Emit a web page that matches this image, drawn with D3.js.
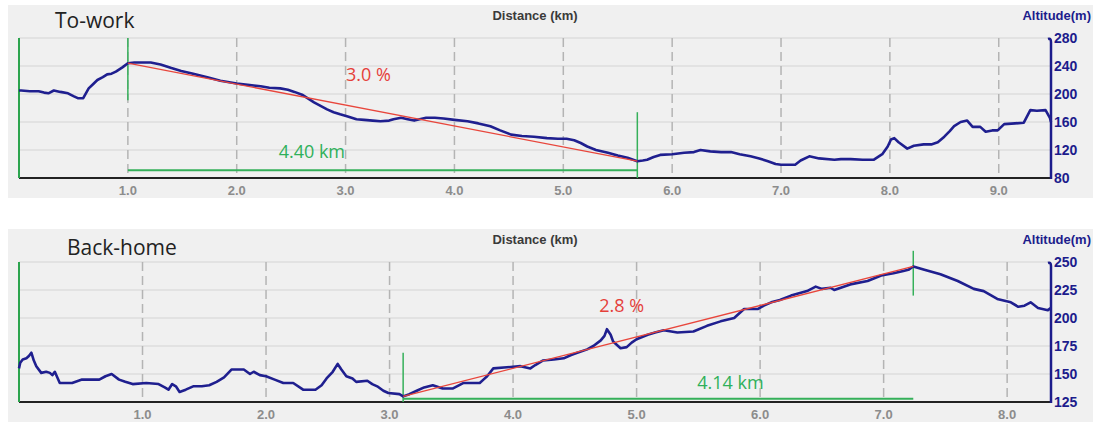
<!DOCTYPE html>
<html>
<head>
<meta charset="utf-8">
<script src="https://cdn.jsdelivr.net/npm/d3@7"></script>
<style>
  body { margin: 0; background: #fff; }
  svg { display: block; }
  .tick-x { font-family: "Liberation Sans", Arial, sans-serif; font-weight: bold; font-size: 13px; fill: #8c8c8c; }
  .tick-y { font-family: "Liberation Sans", Arial, sans-serif; font-weight: bold; font-size: 14px; fill: #1c1c8c; }
  .ax-title { font-family: "Liberation Sans", Arial, sans-serif; font-weight: bold; font-size: 13px; }
  .title { font-family: "Open Sans", "Noto Sans", sans-serif; font-size: 21px; fill: #222; }
  .note { font-family: "Open Sans", "Noto Sans", sans-serif; font-size: 18px; }
</style>
</head>
<body>
<svg id="chart" width="1096" height="424"></svg>
<script>
// To-work profile (km, m)
const topDist = [0.00, 0.02, 0.10, 0.18, 0.23, 0.27, 0.32, 0.38, 0.45, 0.50, 0.54, 0.59, 0.64, 0.68, 0.72, 0.77, 0.81, 0.85, 0.89, 0.95,
  1.00, 1.06, 1.21, 1.30, 1.40, 1.49, 1.60, 1.73, 1.85, 2.00, 2.10, 2.22, 2.30, 2.40, 2.47, 2.53, 2.60, 2.65, 2.71, 2.77,
  2.83, 2.89, 2.95, 3.02, 3.10, 3.17, 3.25, 3.32, 3.40, 3.44, 3.51, 3.57, 3.63, 3.68, 3.74, 3.82, 3.90, 4.00, 4.12, 4.22,
  4.33, 4.42, 4.52, 4.62, 4.73, 4.85, 4.95, 5.03, 5.10, 5.16, 5.22, 5.30, 5.41, 5.50, 5.59, 5.68, 5.73, 5.77, 5.83, 5.89,
  6.00, 6.11, 6.20, 6.26, 6.35, 6.45, 6.54, 6.62, 6.72, 6.80, 6.88, 6.95, 7.00, 7.13, 7.18, 7.26, 7.35, 7.49, 7.55, 7.64,
  7.75, 7.85, 7.93, 7.98, 8.01, 8.04, 8.08, 8.16, 8.22, 8.31, 8.38, 8.44, 8.50, 8.55, 8.59, 8.65, 8.71, 8.76, 8.83, 8.88,
  8.94, 8.99, 9.05, 9.15, 9.23, 9.29, 9.35, 9.43, 9.47, 9.48];
const topAlt = [205, 205, 204, 204, 202, 201, 205, 203, 201, 197, 194, 194, 208, 214, 220, 224, 228, 229, 232, 238,
  244, 245, 245, 242, 237, 233, 229, 224, 219, 215, 213, 211, 209, 208, 206, 203, 199, 194, 188, 183,
  178, 174, 171, 168, 164, 163, 162, 161, 162, 164, 166, 164, 162, 164, 166, 166, 165, 163, 161, 158,
  154, 148, 142, 140, 139, 137, 136, 136, 134, 130, 125, 120, 116, 112, 109, 104, 105, 106, 110, 113,
  114, 116, 117, 120, 118, 117, 117, 114, 111, 108, 104, 100, 99, 99, 105, 111, 108, 106, 107, 107,
  106, 106, 114, 125, 135, 137, 131, 122, 126, 128, 128, 131, 139, 147, 154, 160, 162, 153, 153, 146,
  148, 148, 157, 158, 159, 177, 176, 177, 166, 160];

// Back-home profile (km, m)
const botDist = [0.00, 0.01, 0.03, 0.06, 0.08, 0.10, 0.12, 0.14, 0.18, 0.22, 0.25, 0.27, 0.29, 0.33, 0.38, 0.43, 0.51, 0.58, 0.65, 0.70,
  0.75, 0.81, 0.86, 0.92, 1.03, 1.13, 1.18, 1.21, 1.24, 1.27, 1.30, 1.35, 1.41, 1.48, 1.54, 1.60, 1.66, 1.72, 1.82, 1.87,
  1.90, 1.95, 2.00, 2.07, 2.14, 2.22, 2.30, 2.40, 2.45, 2.49, 2.54, 2.58, 2.61, 2.65, 2.70, 2.73, 2.82, 2.86, 2.90, 2.95,
  2.99, 3.08, 3.11, 3.16, 3.22, 3.28, 3.35, 3.43, 3.51, 3.60, 3.73, 3.76, 3.79, 3.84, 3.95, 4.06, 4.14, 4.18, 4.24, 4.33,
  4.41, 4.47, 4.52, 4.60, 4.65, 4.71, 4.74, 4.76, 4.79, 4.81, 4.87, 4.92, 4.96, 5.00, 5.09, 5.15, 5.22, 5.33, 5.46, 5.57,
  5.68, 5.79, 5.87, 5.98, 6.03, 6.09, 6.16, 6.25, 6.38, 6.45, 6.50, 6.57, 6.60, 6.73, 6.87, 6.98, 7.08, 7.16, 7.20, 7.24,
  7.33, 7.46, 7.60, 7.73, 7.81, 7.92, 8.03, 8.09, 8.14, 8.19, 8.25, 8.33, 8.355];
const botAlt = [155, 160, 163, 164, 166, 169, 162, 157, 151, 152, 151, 149, 152, 142, 142, 142, 145, 145, 145, 148,
  150, 145, 143, 141, 142, 141, 138, 136, 141, 139, 134, 136, 139, 139, 140, 143, 147, 154, 154, 150,
  152, 149, 148, 145, 142, 142, 136, 136, 140, 146, 152, 159, 154, 148, 146, 143, 144, 141, 139, 135,
  133, 132, 130, 132, 135, 138, 140, 137, 137, 142, 142, 145, 148, 155, 156, 157, 155, 158, 162, 163,
  164, 167, 169, 172, 175, 180, 184, 190, 185, 179, 173, 174, 178, 181, 185, 187, 189, 187, 188, 193,
  197, 200, 208, 208, 211, 214, 216, 220, 224, 228, 226, 227, 225, 230, 233, 238, 240, 242, 243, 246,
  243, 239, 233, 226, 224, 217, 214, 210, 211, 214, 209, 207, 209];

const topXTicks = [1, 2, 3, 4, 5, 6, 7, 8, 9];
const topYTicks = [80, 120, 160, 200, 240, 280];
const botXTicks = [1, 2, 3, 4, 5, 6, 7, 8];
const botYTicks = [125, 150, 175, 200, 225, 250];

// climb segment: [start km, end km]
const topClimb = [1.00, 5.68];
const botClimb = [3.11, 7.24];
const topGrade = "3.0 %";
const botGrade = "2.8 %";
const topLength = "4.40 km";
const botLength = "4.14 km";

const svg = d3.select("#chart");

function drawPanel(cfg) {
  const g = svg.append("g").attr("transform", `translate(0,${cfg.top})`);
  const left = 19, right = 1051, plotTop = 33, plotBottom = 173;

  g.append("rect")
    .attr("x", 8).attr("y", 0)
    .attr("width", 1085).attr("height", 193)
    .attr("fill", "#f0f0f0");

  const x = d3.scaleLinear().domain([0, cfg.xMax]).range([left, right]);
  const y = d3.scaleLinear().domain(cfg.yDomain).range([plotBottom, plotTop]);

  // horizontal grid
  g.selectAll(".hgrid")
    .data(cfg.yTicks)
    .enter()
    .append("line")
    .attr("x1", left).attr("x2", right)
    .attr("y1", (d) => y(d)).attr("y2", (d) => y(d))
    .attr("stroke", "#d4d4d4").attr("stroke-width", 1);

  // vertical dashed grid
  g.selectAll(".vgrid")
    .data(cfg.xTicks)
    .enter()
    .append("line")
    .attr("x1", (d) => x(d)).attr("x2", (d) => x(d))
    .attr("y1", plotTop).attr("y2", plotBottom)
    .attr("stroke", "#b4b4b4").attr("stroke-width", 1.5)
    .attr("stroke-dasharray", "9,5");

  // x tick labels
  g.selectAll(".tick-x")
    .data(cfg.xTicks)
    .enter()
    .append("text")
    .attr("class", "tick-x")
    .attr("x", (d) => x(d))
    .attr("y", plotBottom + 17)
    .attr("text-anchor", "middle")
    .text((d) => d.toFixed(1));

  // y tick labels (right)
  g.selectAll(".tick-y")
    .data(cfg.yTicks)
    .enter()
    .append("text")
    .attr("class", "tick-y")
    .attr("x", right + 3)
    .attr("y", (d) => y(d))
    .attr("dy", "0.36em")
    .text((d) => d);

  g.append("text")
    .attr("class", "ax-title")
    .attr("x", 535).attr("y", 15)
    .attr("text-anchor", "middle")
    .attr("fill", "#3a3a3a")
    .text("Distance (km)");

  g.append("text")
    .attr("class", "ax-title")
    .attr("x", 1091).attr("y", 15)
    .attr("text-anchor", "end")
    .attr("fill", "#1c1c8c")
    .text("Altitude(m)");

  g.append("text")
    .attr("class", "title")
    .attr("x", cfg.titleX).attr("y", cfg.titleY)
    .text(cfg.title);

  // axes
  g.append("line")
    .attr("x1", left).attr("x2", right)
    .attr("y1", plotBottom).attr("y2", plotBottom)
    .attr("stroke", "#222").attr("stroke-width", 2);
  g.append("path")
    .attr("d", `M${right - 3},${plotTop + 1}Q${right},${plotTop} ${right},${plotTop + 4}V${plotBottom + 1}`)
    .attr("fill", "none")
    .attr("stroke", "#1c1c8c").attr("stroke-width", 2.5);
  g.append("line")
    .attr("x1", left).attr("x2", left)
    .attr("y1", plotTop).attr("y2", plotBottom)
    .attr("stroke", "#2ca44e").attr("stroke-width", 2);

  const [c0, c1] = cfg.climb;
  const a0 = cfg.alt[cfg.dist.indexOf(c0)];
  const a1 = cfg.alt[cfg.dist.indexOf(c1)];

  // green markers
  const green = "#35b05a";
  cfg.markers.forEach((m) => {
    g.append("line")
      .attr("x1", x(m.km)).attr("x2", x(m.km))
      .attr("y1", y(m.hi)).attr("y2", y(m.lo))
      .attr("stroke", green).attr("stroke-width", 1.5);
  });
  g.append("line")
    .attr("x1", x(c0)).attr("x2", x(c1))
    .attr("y1", y(cfg.baseAlt)).attr("y2", y(cfg.baseAlt))
    .attr("stroke", green).attr("stroke-width", 2);

  // profile
  const line = d3.line().x((d) => x(d[0])).y((d) => y(d[1]));
  g.append("path")
    .datum(d3.zip(cfg.dist, cfg.alt))
    .attr("d", line)
    .attr("fill", "none")
    .attr("stroke", "#1f1f8f")
    .attr("stroke-width", 2.6)
    .attr("stroke-linejoin", "round");

  // grade line
  g.append("line")
    .attr("x1", x(c0)).attr("y1", y(a0))
    .attr("x2", x(c1)).attr("y2", y(a1))
    .attr("stroke", "#e8463c").attr("stroke-width", 1.3);

  g.append("text")
    .attr("class", "note")
    .attr("x", x(cfg.gradePos[0])).attr("y", y(cfg.gradePos[1]))
    .attr("dy", "0.35em")
    .attr("text-anchor", "middle")
    .attr("fill", "#e5403a")
    .text(cfg.grade);

  g.append("text")
    .attr("class", "note")
    .attr("x", x(cfg.lengthPos[0])).attr("y", y(cfg.lengthPos[1]))
    .attr("dy", "0.35em")
    .attr("text-anchor", "middle")
    .attr("fill", "#2fb05a")
    .text(cfg.length);
}

drawPanel({
  top: 5,
  title: "To-work",
  titleX: 55,
  titleY: 23,
  dist: topDist,
  alt: topAlt,
  xMax: 9.48,
  yDomain: [80, 280],
  xTicks: topXTicks,
  yTicks: topYTicks,
  climb: topClimb,
  markers: [{ km: 1.0, hi: 280, lo: 191 }, { km: 5.68, hi: 174, lo: 80 }],
  baseAlt: 91,
  grade: topGrade,
  gradePos: [3.21, 227],
  length: topLength,
  lengthPos: [2.69, 117]
});

drawPanel({
  top: 229,
  title: "Back-home",
  titleX: 67,
  titleY: 26,
  dist: botDist,
  alt: botAlt,
  xMax: 8.355,
  yDomain: [125, 250],
  xTicks: botXTicks,
  yTicks: botYTicks,
  climb: botClimb,
  markers: [{ km: 3.11, hi: 169, lo: 125 }, { km: 7.24, hi: 260, lo: 220 }],
  baseAlt: 128,
  grade: botGrade,
  gradePos: [4.88, 211],
  length: botLength,
  lengthPos: [5.76, 142.5]
});
</script>
</body>
</html>
